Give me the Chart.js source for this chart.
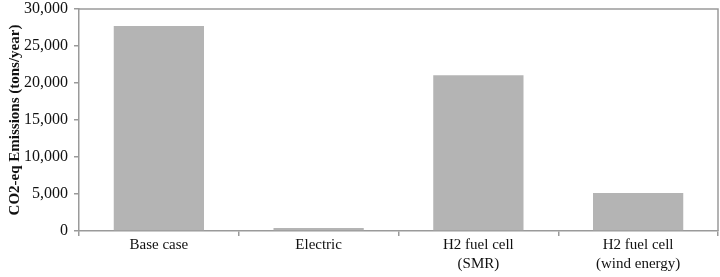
<!DOCTYPE html>
<html>
<head>
<meta charset="utf-8">
<script src="https://cdn.jsdelivr.net/npm/chart.js@4"></script>
<style>
  html, body { margin: 0; padding: 0; background: #fff; }
  #wrap { width: 720px; height: 277px; }
</style>
</head>
<body>
<div id="wrap"><canvas id="grafico"></canvas></div>
<script>
// Datos del gráfico
const categorias = [['Base case'], ['Electric'], ['H2 fuel cell', '(SMR)'], ['H2 fuel cell', '(wind energy)']];
const emisiones  = [27700, 400, 21050, 5150];
const ticksY     = [0, 5000, 10000, 15000, 20000, 25000, 30000];

const colorEje = '#9a9a9a';
const fuente   = "'Liberation Serif', 'Times New Roman', serif";

// Marco alrededor del área del gráfico (arriba y derecha)
const marco = {
    id: 'marco',
    afterDraw(chart){
        const a = chart.chartArea, ctx = chart.ctx;
        ctx.save();
        ctx.strokeStyle = colorEje;
        ctx.lineWidth = 1.5;
        ctx.beginPath();
        ctx.moveTo(a.left, a.top);
        ctx.lineTo(a.right, a.top);
        ctx.lineTo(a.right, a.bottom);
        ctx.stroke();
        ctx.restore();
    }
};

new Chart(document.getElementById('grafico'), {
    type: 'bar',
    data: {
        labels: categorias,
        datasets: [{
            label: 'CO2-eq',
            data: emisiones,
            backgroundColor: '#b4b4b4',
            categoryPercentage: 0.565,
            barPercentage: 1
        }]
    },
    options: {
        responsive: true,
        maintainAspectRatio: false,
        animation: false,
        layout: { padding: { top: 9, right: 2, left: 0, bottom: 0 } },
        plugins: {
            legend:  { display: false },
            tooltip: { enabled: false }
        },
        scales: {
            x: {
                offset: true,
                grid: { offset: true, drawOnChartArea: false, drawTicks: true, tickLength: 5, color: colorEje, lineWidth: 1.5 },
                border: { color: colorEje, width: 1.5 },
                ticks: { color: '#111', font: { family: fuente, size: 15, lineHeight: 1.25 }, padding: 0, maxRotation: 0 },
                afterFit(s){ s.height = 46; }
            },
            y: {
                min: 0,
                max: 30000,
                afterBuildTicks(s){ s.ticks = ticksY.map(v => ({ value: v })); },
                grid: { drawOnChartArea: false, drawTicks: true, tickLength: 5, color: colorEje, lineWidth: 1.5 },
                border: { color: colorEje, width: 1.5 },
                ticks: {
                    color: '#111',
                    font: { family: fuente, size: 16 },
                    padding: 6,
                    callback: v => Number(v).toLocaleString('en-US')
                },
                title: {
                    display: true,
                    text: 'CO2-eq Emissions (tons/year)',
                    color: '#111',
                    font: { family: fuente, size: 15, weight: 'bold' },
                    padding: { top: 6, bottom: 0 }
                },
                afterFit(s){ s.width = 79; s.paddingTop = 0; s.paddingBottom = 0; }
            }
        }
    },
    plugins: [marco]
});
</script>
</body>
</html>
